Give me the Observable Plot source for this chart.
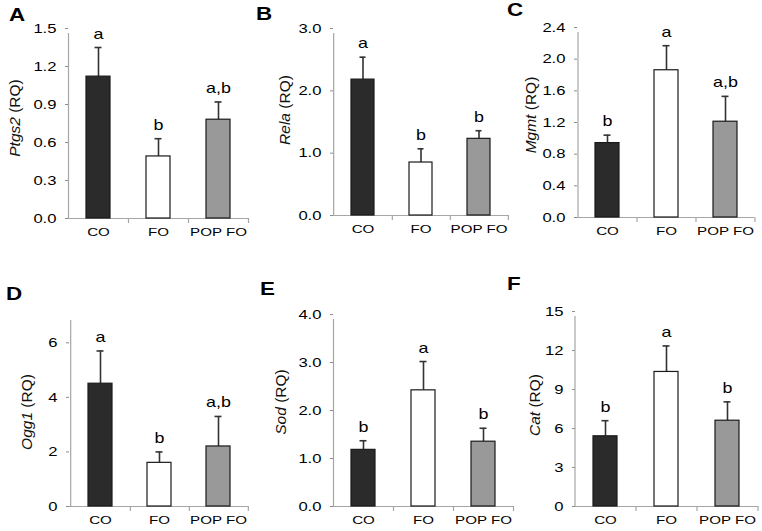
<!DOCTYPE html>
<html>
<head>
<meta charset="utf-8">
<script src="https://cdn.jsdelivr.net/npm/d3@7"></script>
<script src="https://cdn.jsdelivr.net/npm/@observablehq/plot@0.6"></script>
<style>
  html, body { margin: 0; padding: 0; background: #fff; }
  #fig { position: relative; width: 762px; height: 531px; overflow: hidden; font-family: "Liberation Sans", Arial, sans-serif; }
  .panel { position: absolute; }
  .letter { position: absolute; font-weight: bold; font-size: 17.5px; line-height: 1; color: #000; transform: scaleX(1.28); transform-origin: left top; }
  .ylab { position: absolute; font-size: 15.5px; white-space: nowrap; color: #111; transform: translate(-50%, -50%) rotate(-90deg); }
</style>
</head>
<body>
<div id="fig"></div>
<script>
// Categories and values
const groups = ["CO", "FO", "POP FO"];
const groupColors = ["#2b2b2b", "#ffffff", "#999999"];

const panelLetters = ["A", "B", "C", "D", "E", "F"];
const genes = ["Ptgs2", "Rela", "Mgmt", "Ogg1", "Sod", "Cat"];

const ptgs2Mean = [1.12, 0.49, 0.78];
const ptgs2Err  = [1.35, 0.63, 0.92];
const ptgs2Sig  = ["a", "b", "a,b"];

const relaMean = [2.18, 0.85, 1.23];
const relaErr  = [2.54, 1.07, 1.36];
const relaSig  = ["a", "b", "b"];

const mgmtMean = [0.94, 1.86, 1.21];
const mgmtErr  = [1.04, 2.17, 1.53];
const mgmtSig  = ["b", "a", "a,b"];

const ogg1Mean = [4.5, 1.6, 2.2];
const ogg1Err  = [5.7, 2.0, 3.3];
const ogg1Sig  = ["a", "b", "a,b"];

const sodMean = [1.18, 2.42, 1.35];
const sodErr  = [1.37, 3.02, 1.63];
const sodSig  = ["b", "a", "b"];

const catMean = [5.4, 10.35, 6.6];
const catErr  = [6.6, 12.35, 8.05];
const catSig  = ["b", "a", "b"];

// Axis ticks
const ptgs2Ticks = [0, 0.3, 0.6, 0.9, 1.2, 1.5];
const relaTicks  = [0, 1, 2, 3];
const mgmtTicks  = [0, 0.4, 0.8, 1.2, 1.6, 2.0, 2.4];
const ogg1Ticks  = [0, 2, 4, 6];
const sodTicks   = [0, 1, 2, 3, 4];
const catTicks   = [0, 3, 6, 9, 12, 15];

const yMax = [1.5, 3.0, 2.4, 7, 4.0, 15];
const tickFormats = ["0.1f", "0.1f", "0.1f", "d", "0.1f", "d"];

const series = [
  [ptgs2Mean, ptgs2Err, ptgs2Sig, ptgs2Ticks],
  [relaMean, relaErr, relaSig, relaTicks],
  [mgmtMean, mgmtErr, mgmtSig, mgmtTicks],
  [ogg1Mean, ogg1Err, ogg1Sig, ogg1Ticks],
  [sodMean, sodErr, sodSig, sodTicks],
  [catMean, catErr, catSig, catTicks]
];

// Layout of each panel (pixels)
const layout = [
  {left: 0,   top: 0,   w: 254, h: 265, mL: 68, mR: 6,  mT: 28, mB: 47, lx: 15,  ly: 118, px: 9,   py: 7},
  {left: 254, top: 0,   w: 258, h: 265, mL: 79, mR: 3,  mT: 28, mB: 50, lx: 31,  ly: 110, px: 2,   py: 6},
  {left: 508, top: 0,   w: 254, h: 265, mL: 69, mR: 8,  mT: 27, mB: 48, lx: 23,  ly: 115, px: -1,  py: 2},
  {left: 0,   top: 265, w: 254, h: 266, mL: 69, mR: 6,  mT: 50, mB: 25, lx: 27,  ly: 147, px: 6,   py: 21},
  {left: 254, top: 265, w: 262, h: 266, mL: 79, mR: 3,  mT: 49, mB: 25, lx: 27,  ly: 137, px: 6,   py: 16},
  {left: 508, top: 265, w: 254, h: 266, mL: 67, mR: 4,  mT: 46, mB: 25, lx: 27,  ly: 140, px: -1,  py: 11}
];

const stretch = 1.28; // the reference's text is horizontally widened

const fig = document.getElementById("fig");

series.forEach(([mean, err, sig, ticks], p) => {
  const L = layout[p];
  const data = groups.map((g, i) => ({group: g, mean: mean[i], err: err[i], sig: sig[i], color: groupColors[i]}));
  const step = (L.w - L.mL - L.mR) / groups.length;
  const fmt = d3.format(tickFormats[p]);

  const chart = Plot.plot({
    width: L.w,
    height: L.h,
    marginLeft: L.mL,
    marginRight: L.mR,
    marginTop: L.mT,
    marginBottom: L.mB,
    style: {fontFamily: "'Liberation Sans', Arial, sans-serif", fontSize: "13px", color: "#000", background: "transparent", overflow: "visible"},
    x: {domain: groups, paddingInner: 0.6, paddingOuter: 0.3, label: null},
    y: {domain: [0, yMax[p]], label: null},
    marks: [
      Plot.axisY({ticks: ticks, tickFormat: fmt, tickSize: 3, tickPadding: 9, stroke: "#8c8c8c", fill: "#000", fontSize: 13, label: null}),
      Plot.axisX({tickSize: 0, tickPadding: 9, fontSize: 11.8, fill: "#000", label: null}),
      Plot.ruleY([0], {stroke: "#a6a6a6", strokeWidth: 1.2}),
      Plot.ruleX([groups[0]], {x: d => d, y1: 0, y2: yMax[p], dx: -step / 2, stroke: "#a6a6a6", strokeWidth: 1.2, insetBottom: -5}),
      Plot.ruleX(groups, {x: d => d, y1: 0, y2: 0, dx: step / 2, insetBottom: -5, stroke: "#a6a6a6", strokeWidth: 1.2}),
      Plot.ruleX(data, {x: "group", y1: "mean", y2: "err", stroke: "#333", strokeWidth: 1.6}),
      Plot.tickY(data, {x: "group", y: "err", stroke: "#333", strokeWidth: 1.6, insetLeft: 8.5, insetRight: 8.5}),
      Plot.barY(data, {x: "group", y: "mean", fill: "color", stroke: "#1a1a1a", strokeWidth: 1.2}),
      Plot.text(data, {x: "group", y: "err", text: "sig", lineAnchor: "bottom", dy: -9, fontSize: 14, fill: "#000"})
    ]
  });

  // widen all text horizontally about its anchor, as in the reference
  d3.select(chart).selectAll("text").each(function () {
    const t = this.getAttribute("transform");
    if (t) {
      this.setAttribute("transform", t + ` scale(${stretch},1)`);
    } else {
      const x = +(this.getAttribute("x") || 0), y = +(this.getAttribute("y") || 0);
      this.setAttribute("transform", `translate(${x},${y}) scale(${stretch},1) translate(${-x},${-y})`);
    }
  });

  const wrap = document.createElement("div");
  wrap.className = "panel";
  wrap.style.left = L.left + "px";
  wrap.style.top = L.top + "px";
  wrap.appendChild(chart);
  fig.appendChild(wrap);

  const lab = document.createElement("div");
  lab.className = "ylab";
  lab.style.left = (L.left + L.lx) + "px";
  lab.style.top = (L.top + L.ly) + "px";
  const it = document.createElement("i");
  it.textContent = genes[p];
  lab.appendChild(it);
  lab.appendChild(document.createTextNode(" (RQ)"));
  fig.appendChild(lab);

  const let_ = document.createElement("div");
  let_.className = "letter";
  let_.style.left = (L.left + L.px) + "px";
  let_.style.top = (L.top + L.py) + "px";
  let_.textContent = panelLetters[p];
  fig.appendChild(let_);
});
</script>
</body>
</html>
